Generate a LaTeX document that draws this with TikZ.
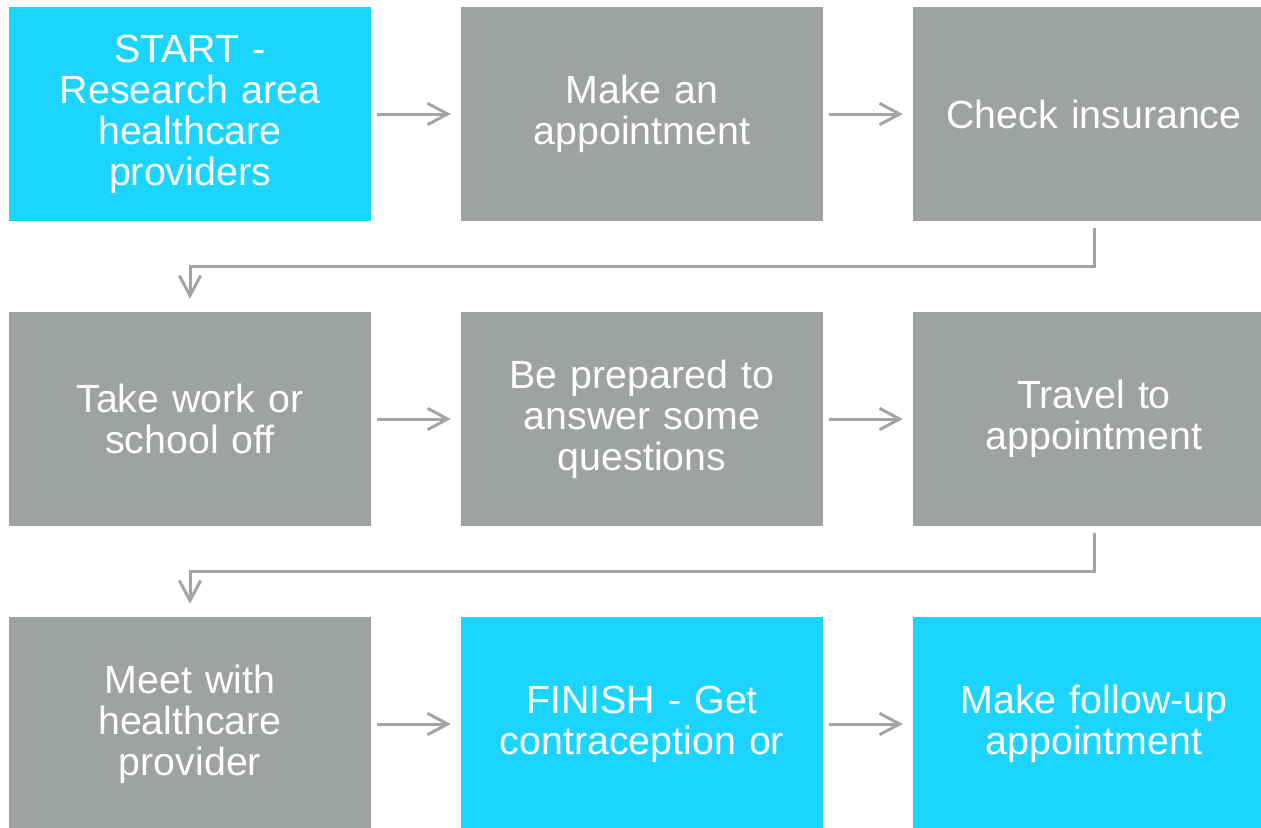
\documentclass[tikz,border=0pt]{standalone}
\usepackage{fontspec}
\setmainfont{Liberation Sans}
\usetikzlibrary{arrows.meta}
\definecolor{stepcyan}{HTML}{1BD5FF}
\definecolor{stepgray}{HTML}{9FA2A2}
\definecolor{linkgray}{HTML}{A4A4A4}
\begin{document}
\begin{tikzpicture}[x=0.75pt,y=-0.75pt,
  box/.style={rectangle, inner sep=0pt, minimum width=271.5pt, minimum height=160.5pt,
    text width=260pt, align=center, text=white,
    font=\fontsize{29.5pt}{30.8pt}\selectfont},
  graybox/.style={box, fill=stepgray},
  cyanbox/.style={box, fill=stepcyan},
  link/.style={draw=linkgray, line width=2.25pt,
    -{Straight Barb[length=15pt,width=16pt,line width=2.25pt]}}]
\useasboundingbox (0,0) rectangle (1261,828);

% first row
\node[cyanbox] (a) at (190,114) {START -\\Research area\\healthcare\\providers};
\node[graybox] (b) at (642,114) {Make an\\appointment};
\node[graybox] (c) at (1094,114) {Check insurance};
% second row
\node[graybox] (d) at (190,419) {Take work or\\school off};
\node[graybox] (e) at (642,419) {Be prepared to\\answer some\\questions};
\node[graybox] (f) at (1094,419) {Travel to\\appointment};
% third row
\node[graybox] (g) at (190,724) {Meet with\\healthcare\\provider};
\node[cyanbox] (h) at (642,724) {FINISH - Get\\contraception or};
\node[cyanbox] (i) at (1094,724) {Make follow-up\\appointment};

% horizontal links
\foreach \u/\v in {a/b, b/c, d/e, e/f, g/h, h/i}
  \draw[link] ([xshift=4.5pt]\u.east) -- ([xshift=-7.5pt]\v.west);

% row-to-row elbows
\draw[link] ([yshift=-5.25pt]c.south) -- ++(0,-28.5pt) -| ([yshift=9.75pt]d.north);
\draw[link] ([yshift=-5.25pt]f.south) -- ++(0,-28.5pt) -| ([yshift=9.75pt]g.north);
\end{tikzpicture}
\end{document}
